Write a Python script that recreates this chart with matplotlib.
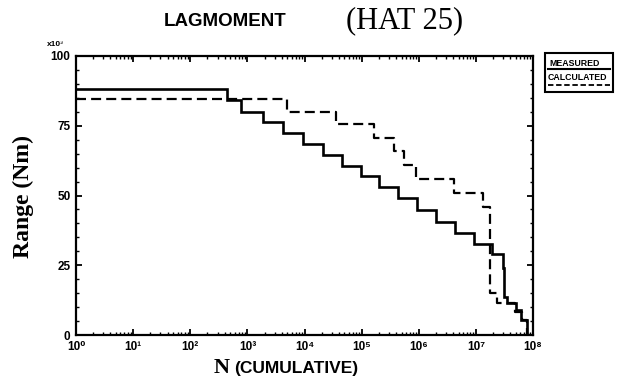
import numpy as np
import matplotlib
matplotlib.use("Agg")
import matplotlib.pyplot as plt
from matplotlib.ticker import FixedLocator, MultipleLocator, LogLocator, NullFormatter
from matplotlib.patches import Rectangle
from matplotlib.lines import Line2D

## step data: log10(N) breakpoints and range level (x10^3 Nm)
measured_logn = [0, 2.64, 2.89, 3.27, 3.63, 3.98, 4.33, 4.66, 4.99, 5.31, 5.64,
                 5.97, 6.30, 6.64, 6.97, 7.29, 7.47, 7.50, 7.54, 7.70, 7.79,
                 7.90, 7.95, 8.0]
measured_range = [88.0, 84.2, 79.9, 76.3, 72.4, 68.5, 64.5, 60.6, 57.0, 53.0,
                  49.1, 44.8, 40.5, 36.6, 32.6, 29.0, 24.0, 13.6, 11.5, 9.0,
                  5.4, 0.0, 0.0, 0.0]

calc_logn = [0, 3.70, 4.56, 5.21, 5.56, 5.74, 5.96, 6.61, 7.12, 7.25, 7.37,
             7.69, 7.81, 7.90, 8.0]
calc_range = [84.5, 79.9, 75.6, 70.6, 65.9, 60.9, 55.9, 50.9, 45.9, 15.0,
              11.5, 8.2, 5.4, 0.0, 0.0]

x_ticks = [1e0, 1e1, 1e2, 1e3, 1e4, 1e5, 1e6, 1e7, 1e8]
x_labels = ["10⁰", "10¹", "10²", "10³", "10⁴", "10⁵", "10⁶", "10⁷", "10⁸"]
y_ticks = [0, 25, 50, 75, 100]
y_labels = ["0", "25", "50", "75", "100"]

SANS = ["Liberation Sans", "DejaVu Sans"]
SERIF = ["Liberation Serif", "DejaVu Serif"]

W, H = 627, 382
fig = plt.figure(figsize=(W / 100, H / 100), dpi=100)
ax = fig.add_axes([76 / W, 1 - 335 / H, (533 - 76) / W, (335 - 56) / H])

ax.plot(10 ** np.array(measured_logn), measured_range, drawstyle="steps-post",
        color="black", lw=1.9, solid_joinstyle="miter")
ax.plot(10 ** np.array(calc_logn), calc_range, drawstyle="steps-post",
        color="black", lw=1.6, dashes=(4.5, 2.3))

ax.set_xscale("log")
ax.set_xlim(1, 1e8)
ax.set_ylim(0, 100)

ax.xaxis.set_major_locator(FixedLocator(x_ticks))
ax.set_xticklabels(x_labels)
ax.xaxis.set_minor_locator(LogLocator(base=10, subs=np.arange(2, 10), numticks=20))
ax.xaxis.set_minor_formatter(NullFormatter())
ax.yaxis.set_major_locator(FixedLocator(y_ticks))
ax.set_yticklabels(y_labels)
ax.yaxis.set_minor_locator(MultipleLocator(5))

ax.tick_params(which="both", direction="in", top=True, right=True, color="black")
ax.tick_params(which="major", length=4, width=1.3)
ax.tick_params(which="minor", length=2, width=1.0)
ax.tick_params(axis="x", pad=4)
ax.tick_params(axis="y", pad=4)
for lab in ax.get_xticklabels() + ax.get_yticklabels():
    lab.set_family(SANS)
    lab.set_fontweight("bold")
    lab.set_fontsize(8.5)
for s in ax.spines.values():
    s.set_linewidth(1.6)

# multiplier above the y axis
fig.text(55 / W, 1 - 45 / H, "x10³", family=SANS, fontweight="bold", fontsize=6,
         ha="center", va="center")

# titles
fig.text(225 / W, 1 - 22 / H, "LAGMOMENT", family=SANS, fontweight="bold",
         fontsize=13.5, ha="center", va="center")
fig.text(405 / W, 1 - 21 / H, "(HAT 25)", family=SERIF, fontsize=22,
         ha="center", va="center")

# axis labels
fig.text(23 / W, 1 - 197 / H, "Range (Nm)", family=SERIF, fontweight="bold",
         fontsize=17, rotation=90, ha="center", va="center")
fig.text(222 / W, 1 - 368 / H, "N", family=SERIF, fontweight="bold",
         fontsize=16, ha="center", va="center")
fig.text(234 / W, 1 - 368 / H, "(CUMULATIVE)", family=SANS, fontweight="bold",
         fontsize=12.5, ha="left", va="center")

# legend box
fig.add_artist(Rectangle((545 / W, 1 - 92 / H), 68 / W, 39 / H, transform=fig.transFigure,
                         fill=False, edgecolor="black", lw=1.5))
fig.text(549 / W, 1 - 63 / H, "MEASURED", family=SANS, fontweight="bold",
         fontsize=6.3, ha="left", va="center")
fig.add_artist(Line2D([548 / W, 610 / W], [1 - 69 / H, 1 - 69 / H],
                      transform=fig.transFigure, color="black", lw=1.5))
fig.text(548 / W, 1 - 77 / H, "CALCULATED", family=SANS, fontweight="bold",
         fontsize=6.3, ha="left", va="center")
fig.add_artist(Line2D([548 / W, 610 / W], [1 - 85 / H, 1 - 85 / H],
                      transform=fig.transFigure, color="black", lw=1.3, dashes=(3, 1.5)))

fig.savefig("out.png", dpi=100)
